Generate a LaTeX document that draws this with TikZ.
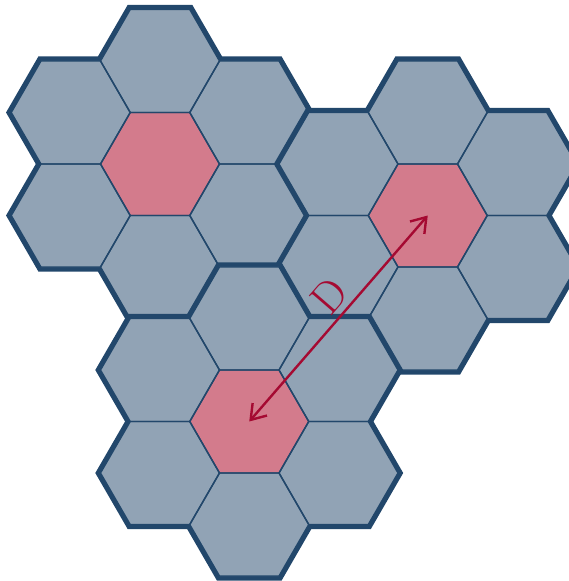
\documentclass[tikz,border=0pt]{standalone}
\usepackage{tikz}
\usetikzlibrary{arrows.meta}
\definecolor{color_91a3b5}{rgb}{0.568627,0.639216,0.709804}
\definecolor{color_d37b8c}{rgb}{0.827451,0.482353,0.549020}
\definecolor{color_22476b}{rgb}{0.133333,0.278431,0.419608}
\definecolor{color_a50a32}{rgb}{0.647059,0.039216,0.196078}

\tikzset{
	cellule/.pic={\path[pic actions] (0:59.5pt) -- (60:59.5pt) -- (120:59.5pt) -- (180:59.5pt) -- (240:59.5pt) -- (300:59.5pt) -- cycle;},
	bord/.style={draw=color_22476b, line width=9pt},
	fond/.style={fill=color_91a3b5},
	trait/.style={draw=color_22476b, line width=1.4pt},
}

\begin{document}
\begin{tikzpicture}[x=1pt, y=-1pt]
		% Cadre de l'image
		\useasboundingbox (0,0) rectangle (569,581);
		\clip (0,0) rectangle (569,581);
		
		% Centres des trois motifs
		\coordinate (centreA) at (160,164);
		\coordinate (centreB) at (427.75,215.5);
		\coordinate (centreC) at (249.25,421.5);
		
		% Motifs de 7 cellules - bord épais, fond, puis traits fins
		\foreach \c in {centreA,centreB,centreC}{
			\foreach \dx/\dy in {0/0, 0/-103, 0/103, -89.25/-51.5, 89.25/-51.5, -89.25/51.5, 89.25/51.5}
				\pic[bord] at ([shift={(\dx,\dy)}]\c) {cellule};
			\foreach \dx/\dy in {0/0, 0/-103, 0/103, -89.25/-51.5, 89.25/-51.5, -89.25/51.5, 89.25/51.5}
				\pic[fond] at ([shift={(\dx,\dy)}]\c) {cellule};
			% Cellule centrale
			\pic[fill=color_d37b8c] at (\c) {cellule};
			\foreach \dx/\dy in {0/0, 0/-103, 0/103, -89.25/-51.5, 89.25/-51.5, -89.25/51.5, 89.25/51.5}
				\pic[trait] at ([shift={(\dx,\dy)}]\c) {cellule};
		}
		
		% Distance de réutilisation
		\draw[color_a50a32, line width=2.4pt, {Straight Barb[length=14pt,width=19pt]}-{Straight Barb[length=14pt,width=19pt]}] (centreC) -- node[sloped, above=2pt, pos=0.54] (dist) {\fontsize{44}{50}\selectfont D} (centreB);
	\end{tikzpicture}
\end{document}
